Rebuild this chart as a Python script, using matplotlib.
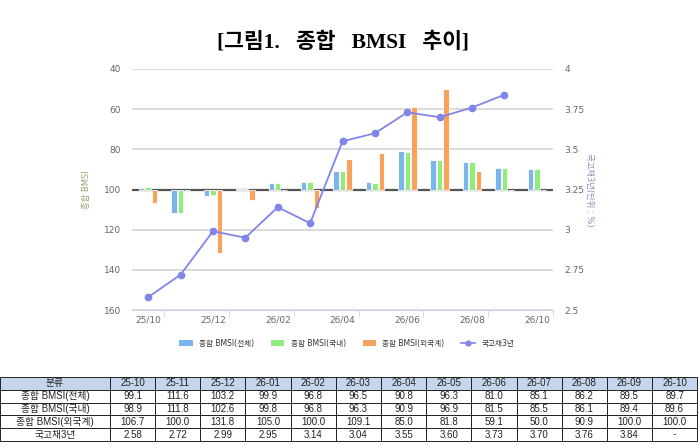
import matplotlib
matplotlib.use("Agg")
import matplotlib.pyplot as plt
import numpy as np
from matplotlib.lines import Line2D
from matplotlib.patches import Patch

categories = ["25-10", "25-11", "25-12", "26-01", "26-02", "26-03", "26-04",
              "26-05", "26-06", "26-07", "26-08", "26-09", "26-10"]
bmsi_total = [99.1, 111.6, 103.2, 99.9, 96.8, 96.5, 90.8, 96.3, 81.0, 85.1, 86.2, 89.5, 89.7]
bmsi_domestic = [98.9, 111.8, 102.6, 99.8, 96.8, 96.3, 90.9, 96.9, 81.5, 85.5, 86.1, 89.4, 89.6]
bmsi_foreign = [106.7, 100.0, 131.8, 105.0, 100.0, 109.1, 85.0, 81.8, 59.1, 50.0, 90.9, 100.0, 100.0]
ktb3y = [2.58, 2.72, 2.99, 2.95, 3.14, 3.04, 3.55, 3.60, 3.73, 3.70, 3.76, 3.84]
ktb3y_labels = ["2.58", "2.72", "2.99", "2.95", "3.14", "3.04", "3.55", "3.60",
                "3.73", "3.70", "3.76", "3.84", "-"]

series_names = ["종합 BMSI(전체)", "종합 BMSI(국내)", "종합 BMSI(외국계)"]
line_name = "국고채3년"
colors = ["#7cb5ec", "#90ed7d", "#f7a35c"]
line_color = "#8085e9"

cjk = ["DejaVu Sans", "Noto Sans CJK KR"]
plt.rcParams["font.family"] = cjk

fig = plt.figure(figsize=(7, 4.48), dpi=100)

# title
fig.text(0.49, 0.905, "[그림1.   종합   BMSI   추이]", ha="center", va="center",
         fontsize=15.5, fontweight="bold",
         family=["Liberation Serif", "Noto Sans CJK KR"])

ax = fig.add_axes([0.1886, 0.308, 0.6014, 0.538])
x = np.arange(len(categories))

ax.set_ylim(160, 40)
ax.set_xlim(-0.5, len(categories) - 0.5)
ax.set_yticks(np.arange(40, 161, 20))
ax.grid(axis="y", color="#dcdcdc", linewidth=1.4)
ax.set_axisbelow(True)
ax.axhline(100, color="#555555", linewidth=1.6, zorder=1.5)

offsets = [-0.2, 0, 0.2]
for vals, off, c in zip([bmsi_total, bmsi_domestic, bmsi_foreign], offsets, colors):
    v = np.array(vals)
    ax.bar(x + off, v - 100, bottom=100, width=0.17, color=c,
           edgecolor="white", linewidth=0.6, zorder=2)

for s in ["top", "right", "left"]:
    ax.spines[s].set_visible(False)
ax.spines["bottom"].set_color("#ccd6eb")

ax.set_xticks(x[::2])
ax.set_xticklabels([c.replace("-", "/") for c in categories[::2]])
ax.set_xticks(np.arange(0.5, len(categories), 2), minor=True)
ax.tick_params(axis="x", which="major", length=0, labelsize=6.5, colors="#666666", pad=4)
ax.tick_params(axis="x", which="minor", length=5, color="#ccd6eb")
ax.tick_params(axis="y", length=0, labelsize=6.5, colors="#666666", pad=8)
ax.set_ylabel("종합 BMSI", fontsize=6, color="#9aa36e", labelpad=9)

ax2 = ax.twinx()
ax2.set_ylim(2.5, 4)
r_ticks = [2.5, 2.75, 3, 3.25, 3.5, 3.75, 4]
ax2.set_yticks(r_ticks)
ax2.set_yticklabels(["2.5", "2.75", "3", "3.25", "3.5", "3.75", "4"])
ax2.plot(x[:len(ktb3y)], ktb3y, color=line_color, linewidth=1.3,
         marker="o", markersize=4.5, zorder=3)
for s in ["top", "right", "left", "bottom"]:
    ax2.spines[s].set_visible(False)
ax2.tick_params(axis="y", length=0, labelsize=6.5, colors="#666666", pad=8)
ax2.set_ylabel("국고채3년(단위 : %)", fontsize=6, color="#8093b8",
               rotation=270, labelpad=7)

handles = [Patch(facecolor=c, edgecolor="none") for c in colors]
handles.append(Line2D([], [], color=line_color, marker="o", markersize=3.5, linewidth=1.2))
fig.legend(handles, series_names + [line_name], loc="center",
           bbox_to_anchor=(0.495, 0.234), ncol=4, frameon=False, fontsize=5.5,
           handlelength=1.8, handleheight=0.9, columnspacing=2.2, labelcolor="#333333")

# table
table_font = ["Liberation Sans Narrow", "Liberation Sans", "Noto Sans CJK KR"]
rows = [["분류"] + categories,
        [series_names[0]] + [f"{v:.1f}" for v in bmsi_total],
        [series_names[1]] + [f"{v:.1f}" for v in bmsi_domestic],
        [series_names[2]] + [f"{v:.1f}" for v in bmsi_foreign],
        [line_name] + ktb3y_labels]

tax = fig.add_axes([0.0, 0.0156, 0.996, 0.143])
tax.axis("off")
col_w = [110] + [45.2] * len(categories)
total_w = sum(col_w)
tbl = tax.table(cellText=rows, colWidths=[w / total_w for w in col_w],
                cellLoc="center", bbox=[0, 0, 1, 1])
tbl.auto_set_font_size(False)
for (r, c), cell in tbl.get_celld().items():
    cell.set_linewidth(0.7)
    cell.set_edgecolor("#222222")
    cell.get_text().set_fontsize(7)
    cell.get_text().set_family(table_font)
    cell.get_text().set_color("#222222")
    if r == 0:
        cell.set_facecolor("#c5d6ec")

fig.savefig("out.png", dpi=100)
